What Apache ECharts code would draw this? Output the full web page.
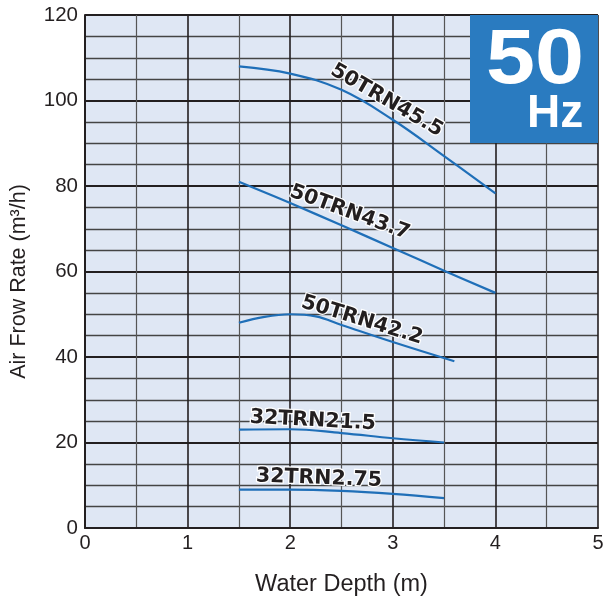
<!DOCTYPE html>
<html><head><meta charset="utf-8">
<script src="https://cdn.jsdelivr.net/npm/echarts@6/dist/echarts.min.js"></script>
<style>html,body{margin:0;padding:0;background:#fff}#c{width:603px;height:599px}</style>
</head><body><div id="c"></div>
<script>
const depth45 = [1.5, 2.0, 2.5, 3.0, 3.5, 4.0];
const flow45 = [108, 106.3, 102.5, 95.5, 87, 78.3];
const depth43 = [1.5, 2.0, 2.5, 3.0, 3.5, 4.0];
const flow43 = [81, 76, 70.8, 65.5, 60.2, 55];
const depth42 = [1.5, 1.75, 2.0, 2.25, 2.5, 3.0, 3.6];
const flow42 = [48, 49.4, 50, 49.5, 47.5, 43.5, 39];
const depth21 = [1.5, 2.0, 2.5, 3.0, 3.5];
const flow21 = [23, 23.1, 22.2, 21, 20];
const depth275 = [1.5, 2.0, 2.5, 3.0, 3.5];
const flow275 = [9, 9, 8.7, 8, 7];
const seriesNames = ['50TRN45.5', '50TRN43.7', '50TRN42.2', '32TRN21.5', '32TRN2.75'];
const labelCoords = [[2.94, 100], [2.58, 73.8], [2.70, 48.6], [2.22, 25.1], [2.28, 11.6]];
const labelAngles = [-30, -20, -17, -3, -2];
const xTicks = [0, 1, 2, 3, 4, 5];
const yTicks = [0, 20, 40, 60, 80, 100, 120];

const pairs = (xs, ys) => xs.map((x, i) => [x, ys[i]]);
const datasets = [pairs(depth45, flow45), pairs(depth43, flow43), pairs(depth42, flow42), pairs(depth21, flow21), pairs(depth275, flow275)];

const chart = echarts.init(document.getElementById('c'), null, {renderer: 'canvas'});
const font = 'Liberation Sans, Arial, Helvetica, sans-serif';
const labelFont = 'DejaVu Sans, Verdana, sans-serif';
chart.setOption({
  animation: false,
  grid: {left: 85, right: 5, top: 15, bottom: 71, show: true, backgroundColor: '#dfe7f4', borderWidth: 0, containLabel: false, outerBoundsMode: 'none'},
  xAxis: {
    type: 'value', min: xTicks[0], max: xTicks[xTicks.length - 1], interval: 1,
    name: 'Water Depth (m)', nameLocation: 'middle', nameGap: 45,
    nameTextStyle: {fontSize: 23.5, color: '#231f20', fontFamily: font},
    axisLine: {show: true, lineStyle: {color: '#231f20', width: 2}},
    axisTick: {show: false},
    axisLabel: {fontSize: 20, color: '#231f20', fontFamily: font, margin: 5},
    splitLine: {show: true, lineStyle: {color: '#231f20', width: 1.6}},
    minorTick: {show: false, splitNumber: 2},
    minorSplitLine: {show: true, lineStyle: {color: '#555', width: 1.2}}
  },
  yAxis: {
    type: 'value', min: yTicks[0], max: yTicks[yTicks.length - 1], interval: 20,
    name: 'Air Frow Rate (m³/h)', nameLocation: 'middle', nameGap: 55,
    nameTextStyle: {fontSize: 21.5, color: '#231f20', fontFamily: font, padding: [0, 20, 0, 0]},
    axisLine: {show: true, lineStyle: {color: '#231f20', width: 2}},
    axisTick: {show: false},
    axisLabel: {fontSize: 20.5, color: '#231f20', fontFamily: font, margin: 7},
    splitLine: {show: true, lineStyle: {color: '#231f20', width: 2}},
    minorTick: {show: false, splitNumber: 4},
    minorSplitLine: {show: true, lineStyle: {color: '#444', width: 1.3}}
  },
  series: datasets.map((d, i) => ({
    type: 'line', name: seriesNames[i], data: d, smooth: 0.4, symbol: 'none',
    lineStyle: {color: '#1f6fb8', width: 2.2},
    markPoint: {
      symbol: 'circle', symbolSize: 0, silent: true,
      data: [{coord: labelCoords[i], value: seriesNames[i]}],
      label: {show: true, formatter: seriesNames[i], rotate: labelAngles[i], position: 'inside',
        fontSize: 20.5, fontWeight: 'bold', color: '#231f20', fontFamily: labelFont,
        textBorderColor: '#ffffff', textBorderWidth: 2.5}
    }
  })),
  graphic: [
    {type: 'rect', left: 470, top: 15, shape: {width: 128, height: 128}, style: {fill: '#2a7bc0'}, z: 100},
    {type: 'text', x: 486, y: 22, scaleX: 1.13, style: {text: '50', fill: '#fff', font: 'bold 78px ' + font, textVerticalAlign: 'top'}, z: 101},
    {type: 'text', x: 527, y: 91, style: {text: 'Hz', fill: '#fff', font: 'bold 46px ' + font, textVerticalAlign: 'top'}, z: 101}
  ]
});
</script></body></html>
